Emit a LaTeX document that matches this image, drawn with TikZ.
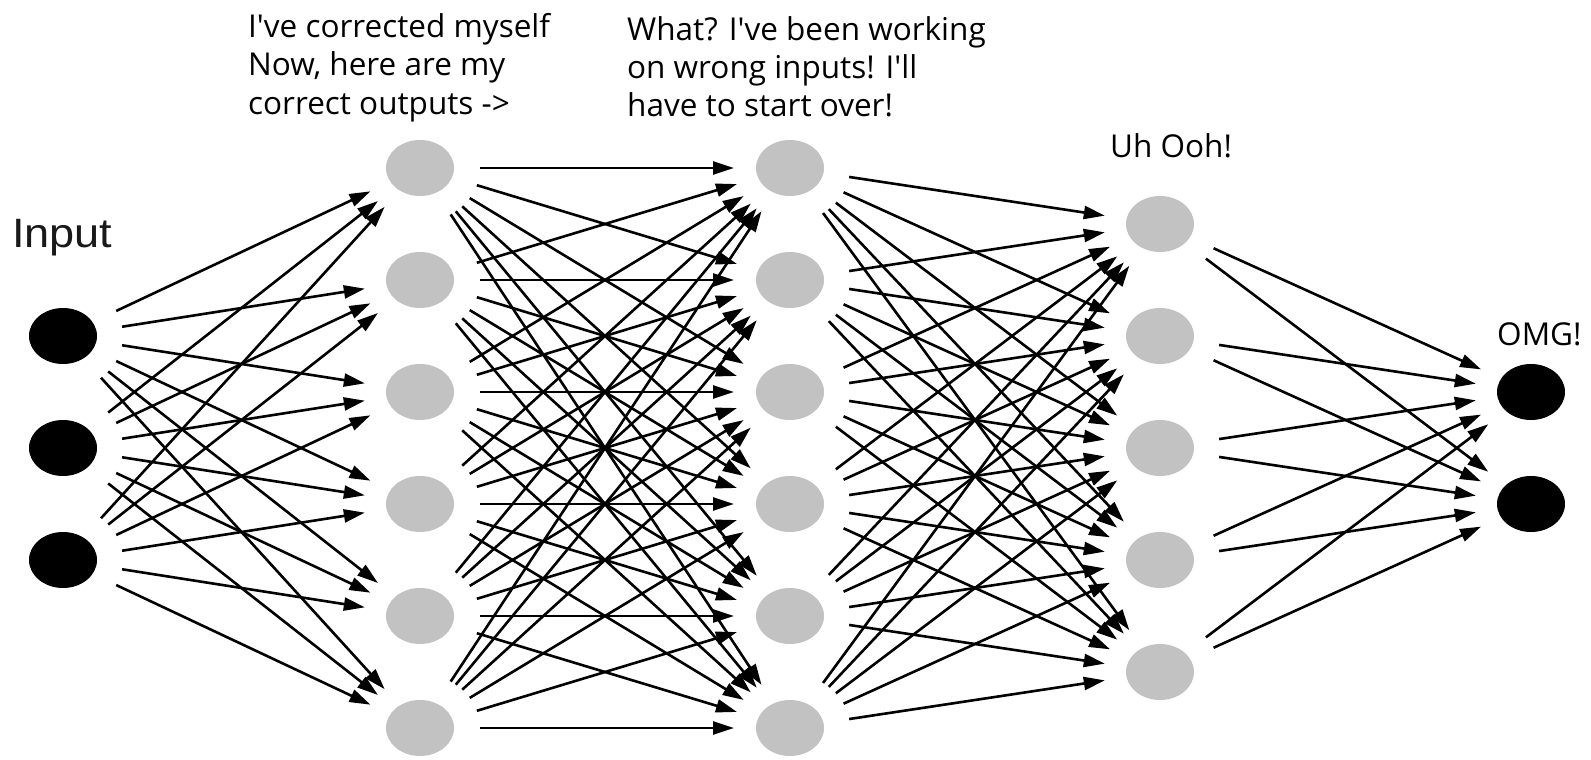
\documentclass[tikz,border=0pt]{standalone}
\usepackage{fontspec}
\setmainfont{Open Sans}
\newfontfamily\inputfont[FakeStretch=1.1]{Liberation Sans}
\usetikzlibrary{arrows.meta,shapes.geometric}
\definecolor{nodegray}{RGB}{194,194,194}
\newcommand{\apo}{\textquotesingle}
\begin{document}
\begin{tikzpicture}[x=1pt,y=-1pt,
  neuron/.style={ellipse,minimum width=68pt,minimum height=56pt,inner sep=0pt,outer sep=22pt,draw=none},
  grayn/.style={neuron,fill=nodegray},
  blackn/.style={neuron,fill=black},
  conn/.style={-{Triangle[length=21pt,width=13pt]},line width=2.6pt,shorten <=4pt},
  lbl/.style={inner sep=0pt,anchor=base west,align=left,font=\fontsize{31.5pt}{38.5pt}\selectfont}
]
\useasboundingbox (0,0) rectangle (1591,760);
% input layer
\foreach \i/\y in {1/336,2/448,3/560} \node[blackn] (in\i) at (63,\y) {};
% hidden layer 1
\foreach \i/\y in {1/168,2/280,3/392,4/504,5/616,6/728} \node[grayn] (h\i) at (420,\y) {};
% hidden layer 2
\foreach \i/\y in {1/168,2/280,3/392,4/504,5/616,6/728} \node[grayn] (g\i) at (790,\y) {};
% hidden layer 3
\foreach \i/\y in {1/224,2/336,3/448,4/560,5/672} \node[grayn] (k\i) at (1160,\y) {};
% output layer
\foreach \i/\y in {1/392,2/504} \node[blackn] (o\i) at (1531,\y) {};
% connections
\foreach \i in {1,2,3} \foreach \j in {1,...,6} \draw[conn] (in\i) -- (h\j);
\foreach \i in {1,...,6} \foreach \j in {1,...,6} \draw[conn] (h\i) -- (g\j);
\foreach \i in {1,...,6} \foreach \j in {1,...,5} \draw[conn] (g\i) -- (k\j);
\foreach \i in {1,...,5} \foreach \j in {1,2} \draw[conn] (k\i) -- (o\j);
% labels
\node[inner sep=0pt,anchor=base west,font=\inputfont\fontsize{41pt}{41pt}\selectfont,text=black!90] (linput) at (12,247) {Input};
\node[lbl] (l1) at (248,114) {I\apo ve corrected myself\\Now, here are my\\correct outputs ->};
\node[lbl] (l2) at (627,117) {What? I\apo ve been working\\on wrong inputs! I\apo ll\\have to start over!};
\node[lbl] (l3) at (1110,157) {Uh Ooh!};
\node[lbl] (l4) at (1497,345) {OMG!};
\end{tikzpicture}
\end{document}
